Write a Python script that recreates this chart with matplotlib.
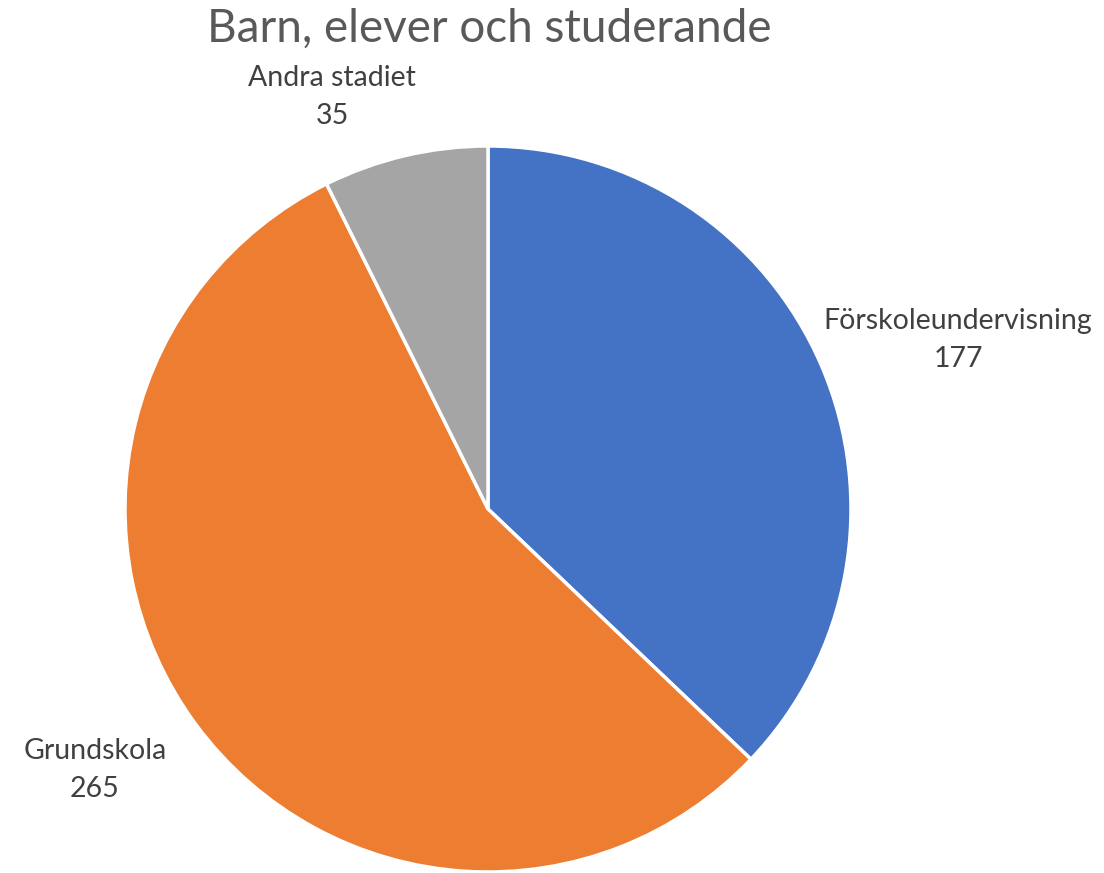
import matplotlib
matplotlib.use("Agg")
import matplotlib.pyplot as plt

categories = ["Förskoleundervisning", "Grundskola", "Andra stadiet"]
values = [177, 265, 35]
colors = ["#4472C4", "#ED7D31", "#A5A5A5"]

plt.rcParams['font.family'] = ['Lato', 'DejaVu Sans']

W, H = 1104, 873
fig = plt.figure(figsize=(W / 100, H / 100), dpi=100)
cx, cy, r = 488, 509, 363
ax = fig.add_axes([(cx - r) / W, (H - cy - r) / H, 2 * r / W, 2 * r / H])
wedges, _ = ax.pie(values, colors=colors, startangle=90, counterclock=False,
                   radius=1.0, wedgeprops=dict(edgecolor="white", linewidth=2.5))
ax.set_xlim(-1, 1)
ax.set_ylim(-1, 1)
ax.set_aspect("equal")
ax.axis("off")

label_pos = [(1.295, 0.466), (-1.083, -0.719), (-0.43, 1.135)]
for (x, y), name, v in zip(label_pos, categories, values):
    ax.text(x, y, f"{name}\n{v}", ha="center", va="center", fontsize=20.5,
            color="#404040", linespacing=1.55, clip_on=False)

fig.text(489 / W, 1 - 29 / H, "Barn, elever och studerande", ha="center",
         va="center", fontsize=33, color="#595959")

fig.savefig("out.png", dpi=100)
